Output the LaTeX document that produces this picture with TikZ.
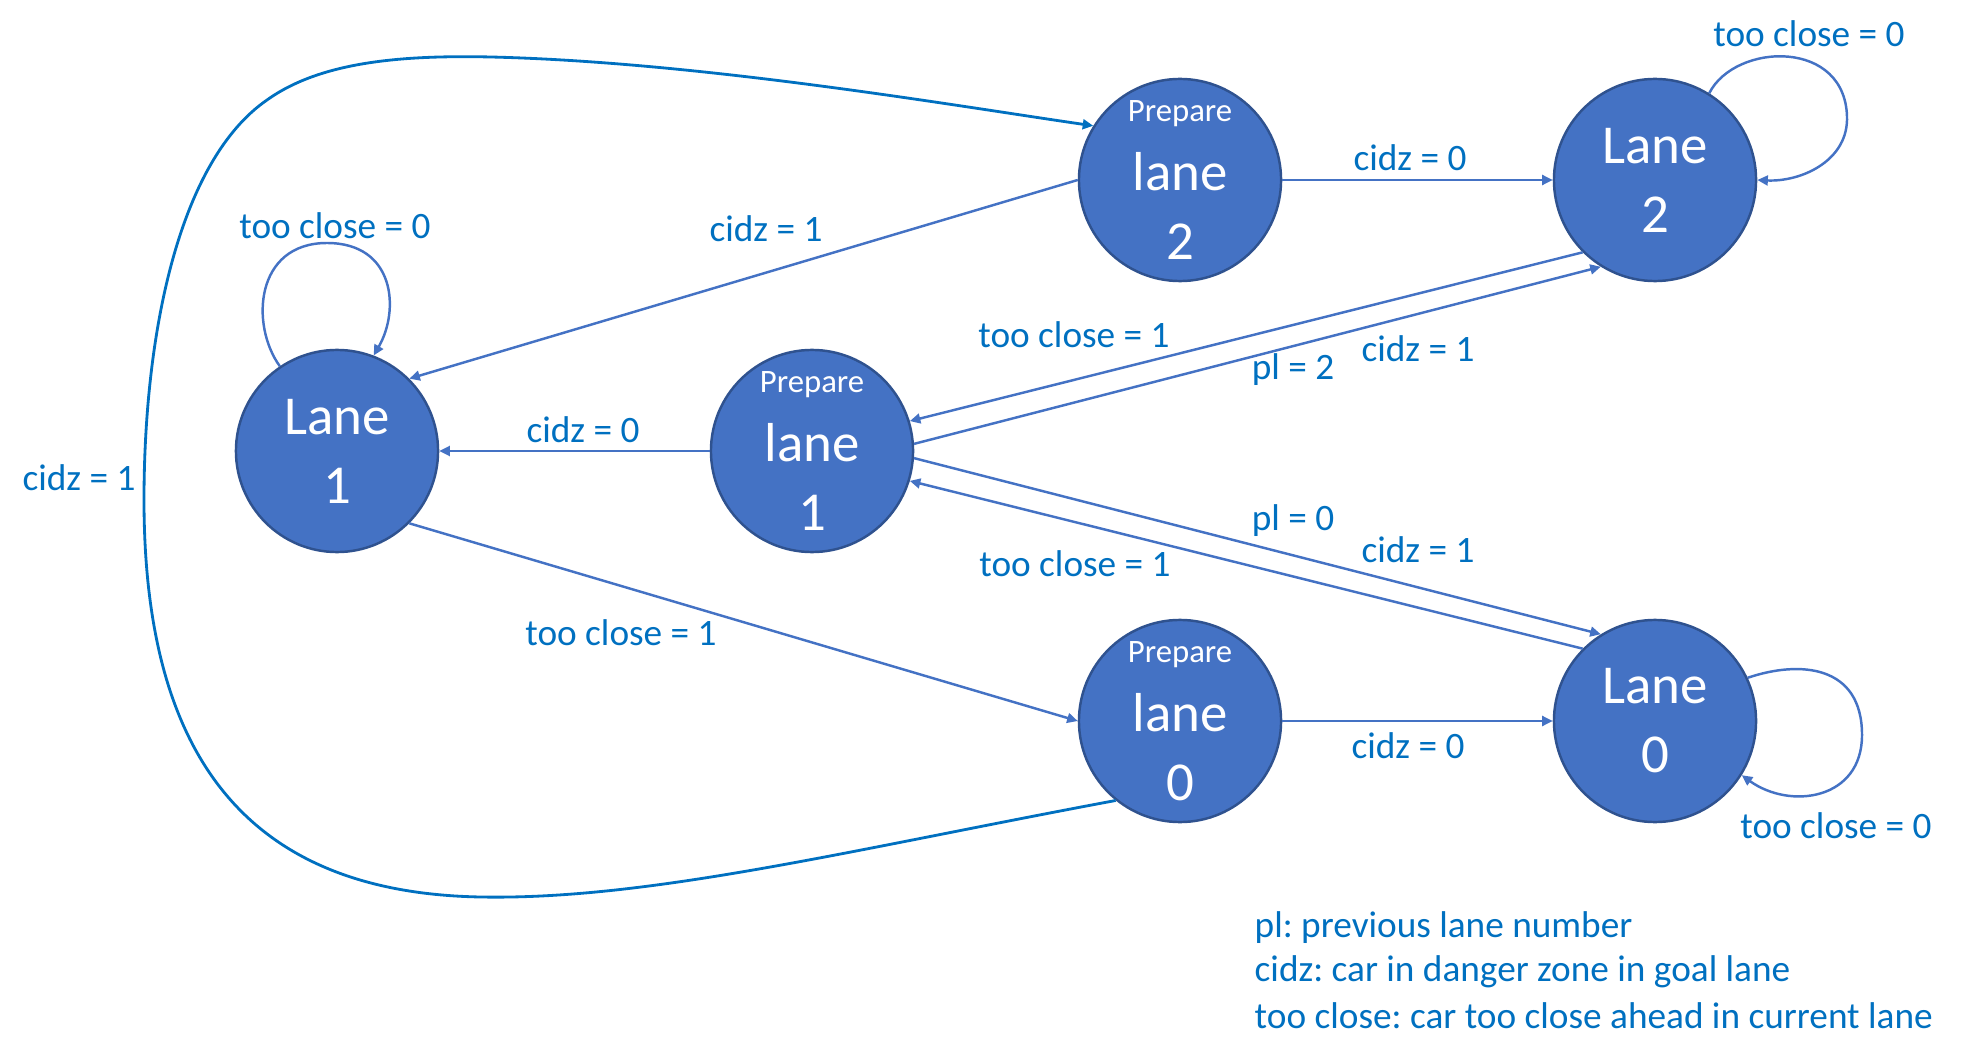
\documentclass[tikz,border=0pt]{standalone}
\usepackage{fontspec}
\setmainfont{Carlito}
\usetikzlibrary{arrows.meta}
\frenchspacing
\definecolor{nodefill}{HTML}{4472C4}
\definecolor{nodeborder}{HTML}{2F528F}
\definecolor{edgecol}{HTML}{4472C4}
\definecolor{labcol}{HTML}{0070C0}
\begin{document}
\begin{tikzpicture}[x=0.01cm,y=-0.01cm,
  state/.style={circle,fill=nodefill,draw=nodeborder,line width=0.7pt,minimum size=2.02cm,inner sep=0pt,text=white,align=center,font=\fontsize{15.6}{19.6}\selectfont},
  edge/.style={draw=edgecol,line width=0.7pt,-{Triangle[length=3pt,width=2.8pt]}},
  bigedge/.style={draw=labcol,line width=0.8pt,-{Triangle[length=3pt,width=2.8pt]}},
  lab/.style={text=labcol,font=\fontsize{10.6}{13}\selectfont,inner sep=0pt},
  legend/.style={text=labcol,font=\fontsize{10.6}{13}\selectfont,inner sep=0pt,anchor=west}]
\useasboundingbox (0,0) rectangle (1961,1061);
\newcommand{\prep}{{\fontsize{9.3}{11}\selectfont Prepare}}
% states
\node[state] (L1) at (337,451) {Lane\\1};
\node[state] (P1) at (812,451) {\prep\\lane\\1};
\node[state] (P2) at (1180,180) {\prep\\lane\\2};
\node[state] (L2) at (1655,180) {Lane\\2};
\node[state] (P0) at (1180,721) {\prep\\lane\\0};
\node[state] (L0) at (1655,721) {Lane\\0};
% straight edges
\draw[edge] (P2.east) -- (L2.west);
\draw[edge] (P0.east) -- (L0.west);
\draw[edge] (P1.west) -- (L1.east);
\draw[edge] (P2.180) -- (L1.45);
\draw[edge] (L1.-45) -- (P0.west);
\draw[edge] (L2.225) -- (P1.17);
\draw[edge] (P1.4) -- (L2.238);
\draw[edge] (P1.-4) -- (L0.122);
\draw[edge] (L0.135) -- (P1.-17);
% loops
\draw[edge] (L2.58) .. controls (1735,42) and (1848,38) .. (1847,120) .. controls (1846,162) and (1800,182) .. (L2.east);
\draw[edge] (L1.124) .. controls (250,325) and (255,243) .. (327,243) .. controls (395,243) and (400,310) .. (L1.69);
\draw[edge] (L0.25) .. controls (1800,660) and (1862,665) .. (1862,735) .. controls (1862,800) and (1790,810) .. (L0.-32);
% big outer curve
\draw[bigedge] (P0.231) .. controls (850,850) and (650,900) .. (481,897)
  .. controls (250,893) and (144,760) .. (144,500)
  .. controls (144,330) and (180,160) .. (267,100)
  .. controls (320,62) and (400,55) .. (491,57)
  .. controls (700,62) and (950,105) .. (P2.148);
% labels
\node[lab] (t1) at (79,478) {cidz = 1};
\node[lab] (t2) at (335,226) {too close = 0};
\node[lab] (t3) at (766,229) {cidz = 1};
\node[lab] (t4) at (1410,158) {cidz = 0};
\node[lab] (t5) at (1809,34) {too close = 0};
\node[lab] (t6) at (1074,335) {too close = 1};
\node[lab] (t7) at (1293,370) {pl = 2};
\node[lab] (t8) at (1418,349) {cidz = 1};
\node[lab] (t9) at (583,430) {cidz = 0};
\node[lab] (t10) at (1293,521) {pl = 0};
\node[lab] (t11) at (1418,550) {cidz = 1};
\node[lab] (t12) at (1075,564) {too close = 1};
\node[lab] (t13) at (621,633) {too close = 1};
\node[lab] (t14) at (1408,746) {cidz = 0};
\node[lab] (t15) at (1836,826) {too close = 0};
% legend
\node[legend] (g1) at (1254,928) {pl: previous lane number};
\node[legend] (g2) at (1254,972) {cidz: car in danger zone in goal lane};
\node[legend] (g3) at (1254,1016) {too close: car too close ahead in current lane};
\end{tikzpicture}
\end{document}
